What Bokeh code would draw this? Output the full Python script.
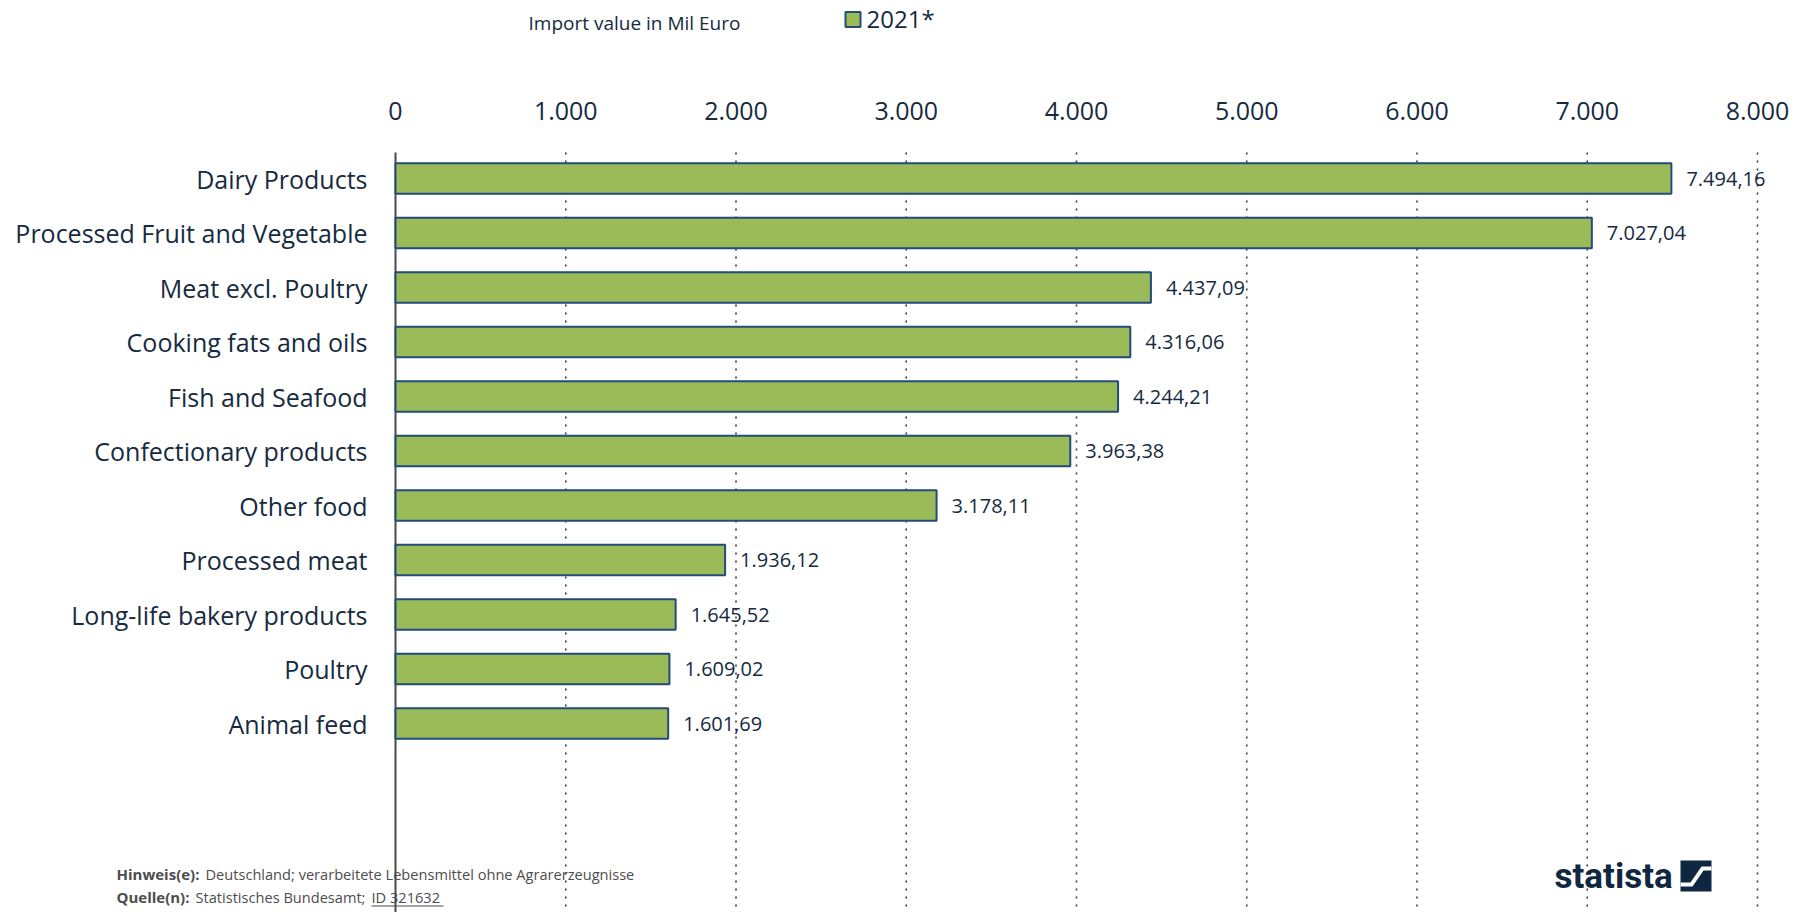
from bokeh.plotting import figure
from bokeh.models import (Range1d, Label, BoxAnnotation, PolyAnnotation, ColumnDataSource)
from bokeh.core.properties import value
from bokeh.embed import file_html
from bokeh.resources import INLINE

# ---- data ----
categories = ["Dairy Products", "Processed Fruit and Vegetable", "Meat excl. Poultry",
              "Cooking fats and oils", "Fish and Seafood", "Confectionary products",
              "Other food", "Processed meat", "Long-life bakery products", "Poultry",
              "Animal feed"]
values_2021 = [7494.16, 7027.04, 4437.09, 4316.06, 4244.21, 3963.38, 3178.11,
               1936.12, 1645.52, 1609.02, 1601.69]
x_ticks = [0, 1000, 2000, 3000, 4000, 5000, 6000, 7000, 8000]
x_tick_labels = ["0", "1.000", "2.000", "3.000", "4.000", "5.000", "6.000", "7.000", "8.000"]
series_name = "2021*"
axis_title = "Import value in Mil Euro"
note_bold = "Hinweis(e):"
note_text = "Deutschland; verarbeitete Lebensmittel ohne Agrarerzeugnisse"
source_bold = "Quelle(n):"
source_text = "Statistisches Bundesamt;"
source_id = "ID 321632"


def de_fmt(v):
    s = f"{v:,.2f}"
    return s.replace(",", "X").replace(".", ",").replace("X", ".")


TEXT = "#162a40"
FONT = "Open Sans"
BAR_FILL = "#9bbb59"
BAR_LINE = "#234b7c"
W, H = 1808, 912
FL, FT, FR = 395, 152, 1757   # plot area left / top / right in pixels
Y0, PITCH = 178, 54.5          # first bar centre and bar pitch in pixels
ppx = (FR - FL) / (x_ticks[-1] - x_ticks[0])


def xd(px):
    return x_ticks[0] + (px - FL) / ppx


def yd(py):
    return (py - Y0) / PITCH


positions = list(range(len(categories)))
src = ColumnDataSource(dict(y=positions, v=values_2021,
                            lbl=[de_fmt(v) for v in values_2021]))

p = figure(width=W, height=H, output_backend="svg", toolbar_location=None,
           x_range=Range1d(xd(0), xd(W)), y_range=Range1d(yd(H), yd(0)),
           min_border=0, x_axis_location=None, y_axis_location=None)
p.outline_line_color = None
p.xgrid.visible = False
p.ygrid.visible = False
p.background_fill_color = "white"
p.border_fill_color = "white"

# dotted vertical gridlines (from the tick values)
p.segment(x0=x_ticks[1:], x1=x_ticks[1:], y0=yd(FT), y1=yd(H),
          line_color="#3a3a3a", line_width=1.6, line_dash="2 6")

# category axis line
p.segment(x0=[x_ticks[0]], x1=[x_ticks[0]], y0=[yd(FT)], y1=[yd(H)],
          line_color="#4a4a4a", line_width=2)

# tick labels on top
p.text(x=x_ticks, y=[yd(110)] * len(x_ticks), text=x_tick_labels,
       text_align="center", text_baseline="middle", text_font=value(FONT),
       text_font_size=value("25px"), text_color=TEXT)

# category labels
p.text(x=[x_ticks[0]] * len(categories), y=positions, text=categories, x_offset=-28,
       text_align="right", text_baseline="middle", text_font=value(FONT),
       text_font_size=value("25px"), text_color=TEXT)

# bars
p.hbar(y="y", left=0, right="v", height=0.56, source=src,
       fill_color=BAR_FILL, line_color=BAR_LINE, line_width=2)

# value labels
p.text(x="v", y="y", text="lbl", source=src, x_offset=15,
       text_align="left", text_baseline="middle", text_font=value(FONT),
       text_font_size=value("20px"), text_color=TEXT)

# axis title
p.text(x=[xd(528)], y=[yd(22)], text=[axis_title], text_align="left",
       text_baseline="middle", text_font=value(FONT), text_font_size=value("19px"),
       text_color=TEXT)

# legend (swatch + label)
p.scatter(x=[xd(852.5)], y=[yd(19)], marker="square", size=15,
          fill_color=BAR_FILL, line_color=BAR_LINE, line_width=2)
p.text(x=[xd(866)], y=[yd(18)], text=[series_name], text_align="left",
       text_baseline="middle", text_font=value(FONT), text_font_size=value("24px"),
       text_color=TEXT)

# notes
NOTE_C = "#4d4d4d"


def note(x, y, text, bold=False, size="14.6px"):
    p.add_layout(Label(x=x, y=H - y, x_units="screen", y_units="screen",
                       text=text, text_baseline="middle", text_align="left",
                       text_font=FONT, text_font_style="bold" if bold else "normal",
                       text_font_size=size, text_color=NOTE_C))


note(116, 873, note_bold, True, "15px")
note(205, 873, note_text)
note(116, 896, source_bold, True, "15px")
note(195, 896, source_text)
note(371, 896, source_id)
p.add_layout(BoxAnnotation(left=371, right=443, bottom=H - 906, top=H - 905,
                           left_units="screen", right_units="screen",
                           bottom_units="screen", top_units="screen",
                           fill_color=NOTE_C, fill_alpha=1, line_color=None))

# statista logo
p.add_layout(Label(x=1554, y=H - 876, x_units="screen", y_units="screen",
                   text="statista", text_baseline="middle", text_font="Roboto",
                   text_font_style="bold", text_font_size="35px", text_color="#0f2741"))
p.add_layout(BoxAnnotation(left=1680, right=1711, bottom=H - 891, top=H - 860,
                           left_units="screen", right_units="screen",
                           bottom_units="screen", top_units="screen",
                           fill_color="#0f2741", fill_alpha=1, line_color=None))
ix, iy = 1680, 860
pts = [(0, 22), (10, 22), (21, 6), (31, 6), (31, 10), (23, 10), (12, 26), (0, 26)]
p.add_layout(PolyAnnotation(xs=[ix + a for a, b in pts], ys=[H - (iy + b) for a, b in pts],
                            xs_units="screen", ys_units="screen",
                            fill_color="white", fill_alpha=1, line_color=None))

open("out.html", "w").write(file_html(p, INLINE))
